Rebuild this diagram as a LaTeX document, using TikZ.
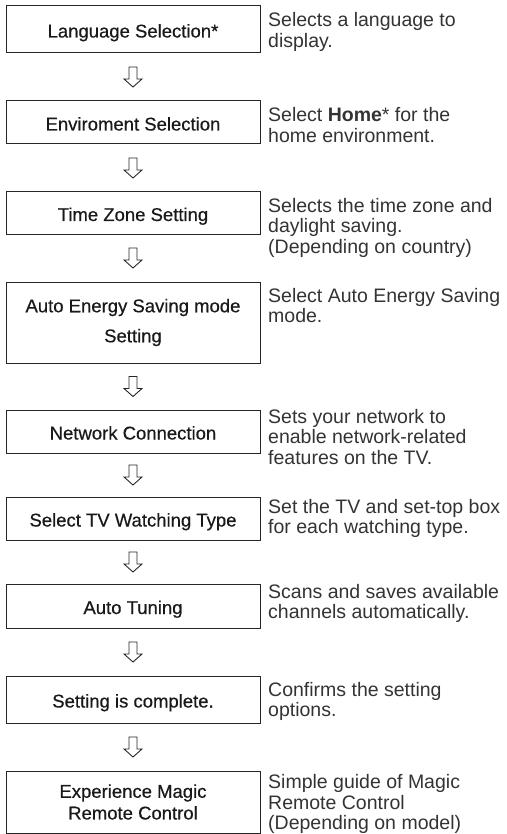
\documentclass[tikz,border=0pt]{standalone}
\usepackage{fontspec}
\setmainfont{Liberation Sans}
\newfontfamily\boxfont[FakeBold=0.5]{Liberation Sans}
\begin{document}
\begin{tikzpicture}[x=1pt,y=-1pt,
  box/.style={draw=black!85, line width=1pt, minimum width=254pt, inner sep=0pt,
    align=center, text=black!90, font=\boxfont\fontsize{18.5}{21.7}\selectfont},
  onebox/.style={box, text height=16pt, text depth=0pt},
  desc/.style={anchor=base west, inner sep=0pt, align=left, text=black!80,
    font=\fontsize{19.5}{20.5}\selectfont},
  harrow/.pic={\draw[line width=0.9pt, black!85, line join=miter, fill=white]
    (-4,-10) -- (4,-10) -- (4,2) -- (9,2) -- (0,10) -- (-9,2) -- (-4,2) -- cycle;}]
\useasboundingbox (0,0) rectangle (506,834);

\node[onebox, minimum height=47pt] (b1) at (133,29.5) {Language Selection*};
\node[onebox, minimum height=43pt] (b2) at (133,122.5) {Enviroment Selection};
\node[onebox, minimum height=42pt] (b3) at (133,213) {Time Zone Setting};
\node[box, minimum height=81pt, font=\boxfont\fontsize{18.5}{30}\selectfont] (b4) at (133,322.5) {Auto Energy Saving mode\\Setting};
\node[onebox, minimum height=43pt] (b5) at (133,431.5) {Network Connection};
\node[onebox, minimum height=43pt] (b6) at (133,518.5) {Select TV Watching Type};
\node[onebox, minimum height=44pt] (b7) at (133,606) {Auto Tuning};
\node[onebox, minimum height=47pt] (b8) at (133,699.5) {Setting is complete.};
\node[box, minimum height=62pt] (b9) at (133,802) {Experience Magic\\Remote Control};

\node[desc] (d1) at (268,47.5) {Selects a language to\\display.};
\node[desc] (d2) at (268,142.5) {Select \textbf{Home}* for the\\home environment.};
\node[desc] (d3) at (268,253) {Selects the time zone and\\daylight saving.\\(Depending on country)};
\node[desc] (d4) at (268,322.5) {Select Auto Energy Saving\\mode.};
\node[desc] (d5) at (268,464) {Sets your network to\\enable network-related\\features on the TV.};
\node[desc] (d6) at (268,533.5) {Set the TV and set-top box\\for each watching type.};
\node[desc] (d7) at (268,618.5) {Scans and saves available\\channels automatically.};
\node[desc] (d8) at (268,716.5) {Confirms the setting\\options.};
\node[desc] (d9) at (268,829.5) {Simple guide of Magic\\Remote Control\\(Depending on model)};

\foreach \a/\b in {b1/b2,b2/b3,b3/b4,b4/b5,b5/b6,b6/b7,b7/b8,b8/b9}{
  \path (\a.south) -- (\b.north) coordinate[midway] (m\a);
  \pic at (m\a) {harrow};
}
\end{tikzpicture}
\end{document}
